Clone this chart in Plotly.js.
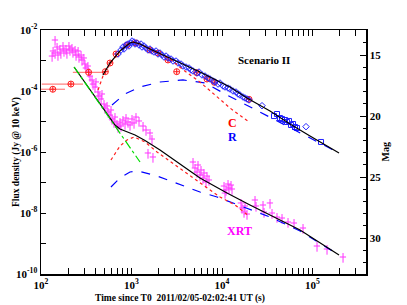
<!DOCTYPE html>
<html><head><meta charset="utf-8">
<script src="https://cdn.plot.ly/plotly-3.0.1.min.js"></script>
<style>html,body{margin:0;padding:0;background:#fff}#chart{width:407px;height:305px}</style>
</head><body><div id="chart"></div>
<script>
// ---- XRT (X-ray) flux points ----
const xrtT = [132.6,136,143,143,150.5,154,162,166,175,179.5,189,193.5,203.7,209,220,225.6,238,244,257,263,277,284,298,306,314,330,339,348,366,376,395,405,426,437,461,472,497,510,537,551,579,594,609,640,657,691,709,746,765,805,848,870,915,963,1013,1066,1121,1211,1341,1446,1601,1684,1522,1727,
  4783,5032,5294,5430,5714,5861,6166,6325,6657,6829,7185,10525,10800,11080,11660,11950,12580,12900,16220,16640,17510,17960,18890,23160,23760,28390,33920,29120,35690,40520,46030,53620,62470,78550,112150,144650,217400];
const xrtF = [1.40e-3,2.05e-3,4.70e-3,1.76e-3,2.77e-3,1.51e-3,2.38e-3,1.76e-3,2.99e-3,2.05e-3,2.38e-3,1.76e-3,2.99e-3,2.21e-3,2.57e-3,1.90e-3,2.21e-3,1.51e-3,2.05e-3,1.30e-3,1.51e-3,1.04e-3,1.21e-3,7.67e-4,5.68e-4,6.59e-4,4.20e-4,3.10e-4,2.30e-4,1.69e-4,1.35e-4,1.98e-4,9.29e-5,6.86e-5,5.47e-5,7.98e-5,3.75e-5,2.77e-5,3.23e-5,2.05e-5,1.63e-5,2.38e-5,1.21e-5,9.63e-6,1.40e-5,8.28e-6,6.60e-6,9.63e-6,7.12e-6,1.12e-5,8.28e-6,1.30e-5,9.63e-6,7.68e-6,1.21e-5,8.93e-6,1.40e-5,1.04e-5,7.12e-6,5.26e-6,4.20e-6,2.66e-6,9.28e-7,6.86e-7,
  4.70e-7,2.99e-7,2.21e-7,3.75e-7,1.76e-7,2.57e-7,1.40e-7,2.05e-7,1.04e-7,1.63e-7,1.21e-7,7.68e-8,4.52e-8,5.68e-8,8.93e-8,6.61e-8,8.28e-8,6.12e-8,2.13e-8,1.46e-8,1.08e-8,1.70e-8,9.26e-9,2.67e-8,1.70e-8,1.83e-8,2.13e-8,1.08e-8,9.99e-9,7.38e-9,6.84e-9,5.07e-9,4.70e-9,3.22e-9,8.28e-10,6.60e-10,3.61e-10];

// ---- R band (diamonds) ----
const rT = [709,765,805,826,870,915,939,988,1013,1066,1093,1150,1211,1274,1306,1375,1446,1522,1601,1684,1773,1866,1963,2065,2172,2287,2407,2532,2733,2876,3103,3266,3525,3709,4003,4320,4545,4783,5294,5570,6013,6490,7005,7370,7954,8370,9035,9505,10260,10800,11660,12260,13230,14280,15020,15810,17065,17960,18900,19880,27680,84760];
const rF = [1.63e-3,2.21e-3,2.77e-3,2.38e-3,3.22e-3,3.47e-3,2.99e-3,3.75e-3,4.36e-3,4.04e-3,3.47e-3,3.75e-3,3.22e-3,3.47e-3,2.77e-3,2.99e-3,2.57e-3,2.21e-3,2.38e-3,2.05e-3,1.90e-3,2.05e-3,1.63e-3,1.76e-3,1.51e-3,1.30e-3,1.40e-3,1.21e-3,1.12e-3,9.63e-4,9.63e-4,8.28e-4,7.67e-4,6.59e-4,6.11e-4,5.68e-4,4.88e-4,4.53e-4,3.89e-4,4.20e-4,3.35e-4,3.10e-4,2.67e-4,2.48e-4,2.13e-4,1.98e-4,1.69e-4,1.83e-4,1.46e-4,1.35e-4,1.25e-4,1.16e-4,1.00e-4,9.29e-5,7.98e-5,7.40e-5,6.36e-5,5.90e-5,5.47e-5,5.07e-5,3.30e-5,6.77e-6];
// ---- R band (squares, late) ----
const rsT = [37550,40530,43750,46040,49680,52280,55000,57880,60920,64080,67430,124100];
const rsF = [1.51e-5,1.76e-5,1.30e-5,1.21e-5,1.12e-5,9.63e-6,1.04e-5,7.68e-6,8.28e-6,6.60e-6,6.12e-6,2.13e-6];

// ---- C band ----
const cT = [135,214,336,514,579,674,892,1121,1601,1963,2529,3158,5253,6823,8222,19880];
const cF = [1.14e-4,1.69e-4,4.1e-4,4.3e-4,8.28e-4,1.63e-3,3.22e-3,3.75e-3,2.21e-3,1.76e-3,1.04e-3,4.30e-4,3.98e-4,2.47e-4,1.93e-4,5.35e-5];
const cErrPlus  = [49,77,174,30,0,0,0,0,0,0,0,0,0,0,0,0];
const cErrMinus = [35,112,111,30,0,0,0,0,0,0,0,0,0,0,0,0];

// ---- model curves ----
const optTotT = [484,578,746,892,960,1039,1120,1242,1600,2661,5710,12250,18880,33900,56400,93800,196300];
const optTotF = [3.35e-4,8.28e-4,2.05e-3,3.22e-3,3.75e-3,4.04e-3,3.80e-3,3.48e-3,2.38e-3,1.21e-3,4.20e-4,1.35e-4,5.89e-5,2.21e-5,8.28e-6,3.35e-6,9.27e-7];
const optRST = [427,484,578,746,892,1039,1242,1600,2065,2661,3706,5710,8370,12250,19860];
const optRSF = [1.08e-4,3.10e-4,7.67e-4,2.05e-3,3.22e-3,4.04e-3,3.48e-3,2.38e-3,1.70e-3,1.12e-3,5.00e-4,1.95e-4,7.40e-5,2.77e-5,9.64e-6];
const optFST = [609,847,1242,2065,3706,6490,11350,20370,43700,93800,196300];
const optFSF = [3.48e-5,7.98e-5,1.35e-4,1.97e-4,2.30e-4,1.83e-4,7.40e-5,2.99e-5,9.64e-6,2.88e-6,9.27e-7];
const xTotT = [232,347,448,578,657,746,892,1094,1410,2065,4425,5710,11350,20370,72800,196300];
const xTotF = [6.12e-4,1.16e-4,3.89e-5,1.30e-5,7.68e-6,5.68e-6,4.70e-6,3.61e-6,2.38e-6,1.16e-6,2.38e-7,1.41e-7,4.53e-8,1.83e-8,2.77e-9,4.20e-10];
const xRST = [593,746,892,1066,1410,1914,3027,5710,9510,13930,19860];
const xRSF = [5.47e-7,1.57e-6,2.47e-6,3.10e-6,2.13e-6,1.0e-6,3.75e-7,9.64e-8,3.35e-8,1.83e-8,7.98e-9];
const xFST = [593,746,962,1180,1914,3706,5710,8810,17060,33900,72800,196300];
const xFSF = [7.11e-8,1.41e-7,2.21e-7,2.38e-7,1.63e-7,7.67e-8,4.89e-8,3.35e-8,1.57e-8,7.40e-9,2.57e-9,4.20e-10];
const tailT = [232,1242];
const tailF = [6.12e-4,4.70e-7];

// ---- ticks ----
const xTickVals = [100,1000,10000,100000];
const xTickText = ['10<sup>2</sup>','10<sup>3</sup>','10<sup>4</sup>','10<sup>5</sup>'];
const xMinor = [200,300,400,500,600,700,800,900,2000,3000,4000,5000,6000,7000,8000,9000,20000,30000,40000,50000,60000,70000,80000,90000,200000,300000];
const yTickVals = [1e-10,1e-8,1e-6,1e-4,1e-2];
const yTickText = ['10<sup>-10</sup>','10<sup>-8</sup>','10<sup>-6</sup>','10<sup>-4</sup>','10<sup>-2</sup>'];
const yMinor = [1e-9,1e-7,1e-5,1e-3];
const magTickVals = [15,20,25,30];
const magMinor = [13,14,16,17,18,19,21,22,23,24,26,27,28,29,31,32];

const FONT = 'Liberation Serif, Times New Roman, serif';
const line = (x,y,color,dash,w) => ({x,y,type:'scatter',mode:'lines',line:{color,dash,width:w||1.2},hoverinfo:'skip',showlegend:false});

const traces = [
  {x:xrtT,y:xrtF,type:'scatter',mode:'markers',marker:{size:1,color:'#ff00ff',opacity:0},
   error_x:{type:'percent',value:8,color:'#ff33ff',thickness:1,width:0},
   error_y:{type:'percent',value:35,color:'#ff33ff',thickness:1,width:0},showlegend:false},
  {x:cT,y:cF,type:'scatter',mode:'markers',marker:{symbol:'circle-cross-open',size:6,color:'#ff2020',line:{width:1}},
   error_x:{type:'data',array:cErrPlus,arrayminus:cErrMinus,symmetric:false,color:'#ff8080',thickness:1.2,width:0},
   error_y:{type:'percent',value:15,color:'#ff8080',thickness:1,width:0},showlegend:false},
  {x:rT,y:rF,type:'scatter',mode:'markers',marker:{symbol:'diamond-open',size:5,color:'#2020ff',line:{width:1}},showlegend:false},
  {x:rsT,y:rsF,type:'scatter',mode:'markers',marker:{symbol:'square-open',size:5,color:'#2020ff',line:{width:1}},showlegend:false},
  line(optFST,optFSF,'#0000ff','dash'),
  line(xFST,xFSF,'#0000ff','dash'),
  line(optRST,optRSF,'#ff2020','dot'),
  line(xRST,xRSF,'#ff2020','dot'),
  line(optTotT,optTotF,'#000000','solid'),
  line(xTotT,xTotF,'#000000','solid'),
  line(tailT,tailF,'#00dd00','dashdot'),
];

const layout = {
  width:407,height:305,margin:{l:41,r:41,t:30,b:31},
  paper_bgcolor:'#fff',plot_bgcolor:'#fff',showlegend:false,
  font:{family:FONT,size:11,color:'#000'},
  xaxis:{type:'log',range:[2,5.591],showgrid:false,zeroline:false,showline:true,linecolor:'#000',linewidth:1.5,
    mirror:'allticks',ticks:'inside',ticklen:6,tickwidth:1,tickcolor:'#000',
    tickmode:'array',tickvals:xTickVals,ticktext:xTickText,tickfont:{family:FONT,size:11,weight:'bold'},
    minor:{tickmode:'array',tickvals:xMinor,ticks:'inside',ticklen:3,tickwidth:1,tickcolor:'#000',showgrid:false}},
  yaxis:{type:'log',range:[-10,-2],showgrid:false,zeroline:false,showline:true,linecolor:'#000',linewidth:1.5,
    ticks:'inside',ticklen:5,tickwidth:1,tickcolor:'#000',tickmode:'array',tickvals:yTickVals,ticktext:yTickText,
    tickfont:{family:FONT,size:11,weight:'bold'},
    minor:{tickmode:'array',tickvals:yMinor,ticks:'inside',ticklen:5,tickwidth:1,tickcolor:'#000',showgrid:false}},
  yaxis2:{overlaying:'y',side:'right',range:[32.95,12.95],showgrid:false,zeroline:false,showline:true,linecolor:'#000',linewidth:1.5,
    ticks:'inside',ticklen:6,tickwidth:1,tickcolor:'#000',tickmode:'array',tickvals:magTickVals,
    tickfont:{family:FONT,size:11,weight:'bold'},
    minor:{tickmode:'array',tickvals:magMinor,ticks:'inside',ticklen:3.5,tickwidth:1,tickcolor:'#000'}},
  annotations:[
    {text:'<b>Scenario II</b>',xref:'paper',yref:'paper',x:0.771,y:0.911,showarrow:false,font:{family:FONT,size:11,color:'#000'}},
    {text:'<b>C</b>',xref:'paper',yref:'paper',x:0.589,y:0.62,showarrow:false,font:{family:FONT,size:12,color:'#ff0000'}},
    {text:'<b>R</b>',xref:'paper',yref:'paper',x:0.589,y:0.56,showarrow:false,font:{family:FONT,size:12,color:'#0000ff'}},
    {text:'<b>XRT</b>',xref:'paper',yref:'paper',x:0.612,y:0.139,showarrow:false,font:{family:FONT,size:12,color:'#ff00ff'}},
    {text:'<b>Time since T0\u00a0\u00a02011/02/05-02:02:41 UT (s)</b>',xref:'paper',yref:'paper',x:0.428,y:-0.1,yanchor:'middle',showarrow:false,font:{family:FONT,size:9.5,color:'#000'}},
    {text:'<b>Flux density (Jy @ 10 keV)</b>',xref:'paper',yref:'paper',x:-0.1,y:0.5,textangle:-90,showarrow:false,font:{family:FONT,size:9.5,color:'#000'}},
    {text:'<b>Mag</b>',xref:'paper',yref:'paper',x:1.08,y:0.5,textangle:-90,showarrow:false,font:{family:FONT,size:10,color:'#000'}}
  ]
};
traces.push({x:[1000],y:[20],yaxis:'y2',type:'scatter',mode:'markers',marker:{opacity:0},hoverinfo:'skip',showlegend:false});
Plotly.newPlot('chart',traces,layout,{staticPlot:true,displayModeBar:false});
</script></body></html>
